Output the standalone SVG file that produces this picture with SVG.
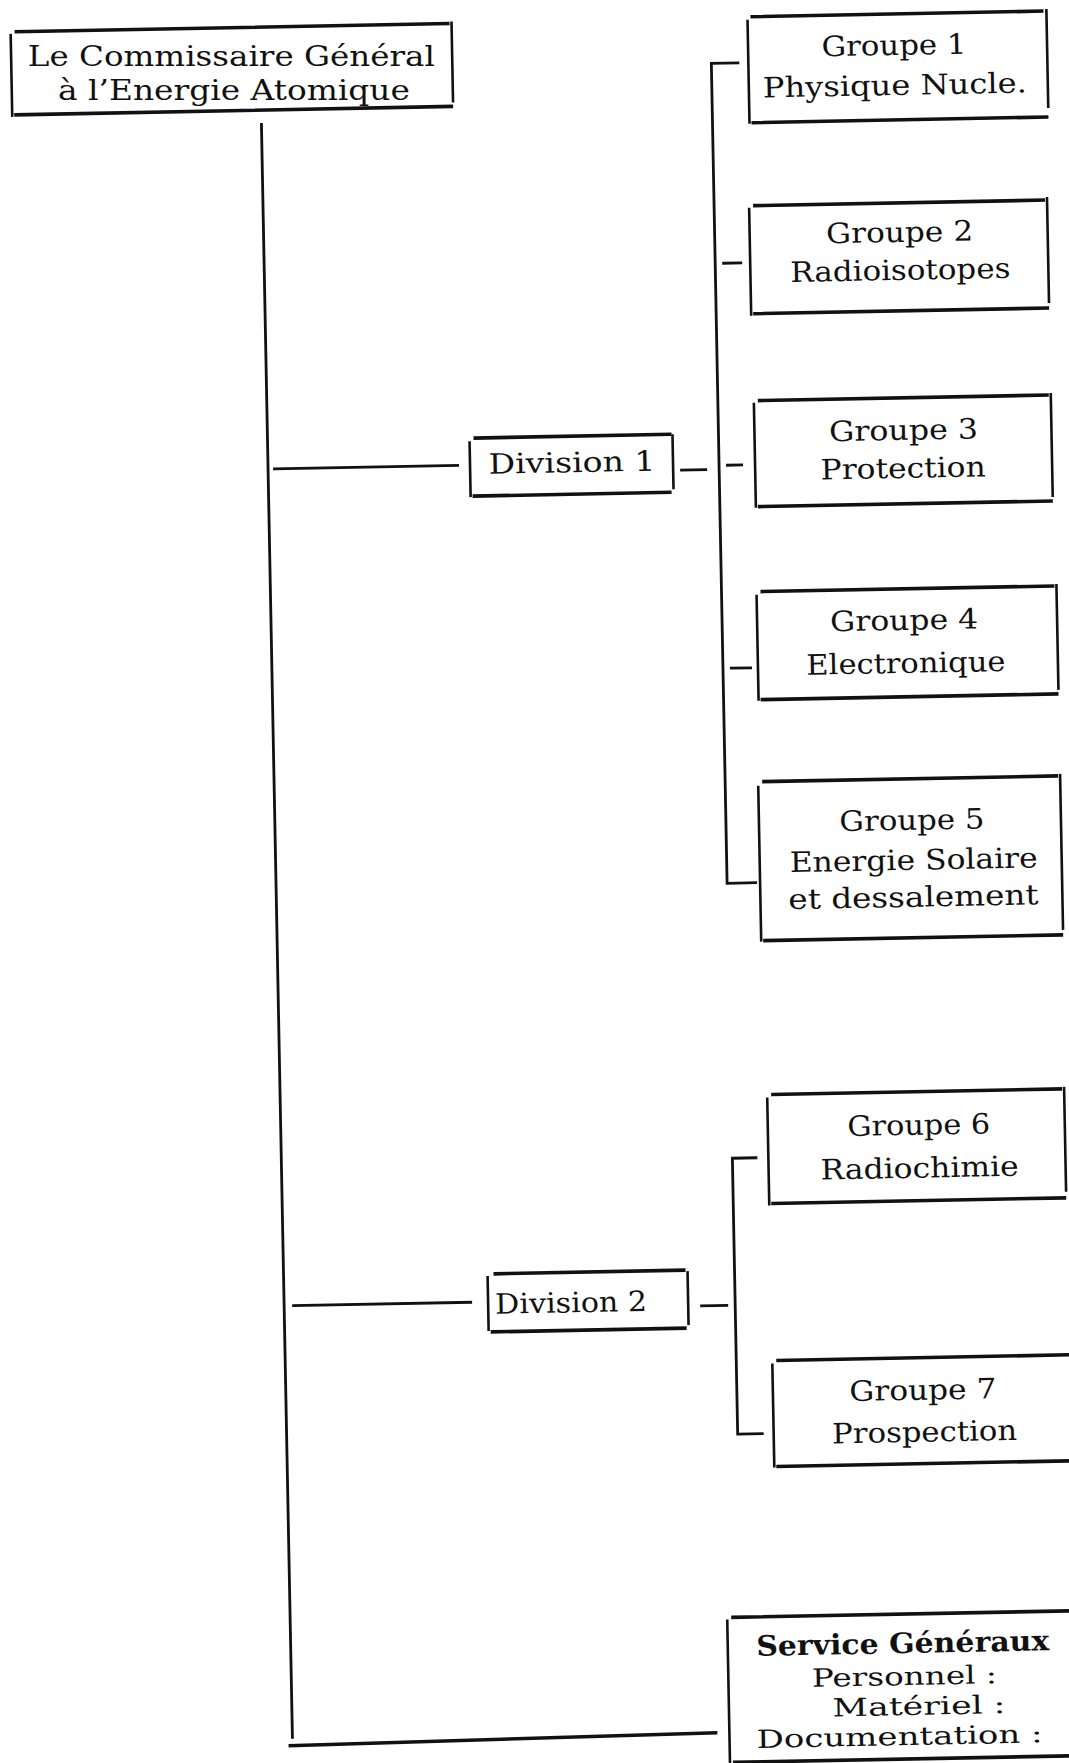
<svg xmlns="http://www.w3.org/2000/svg" width="1069" height="1763" viewBox="0 0 1069 1763">
<style>
.h{stroke:#111;stroke-width:3.6;fill:none}
.v{stroke:#111;stroke-width:2.6;fill:none}
.c{stroke:#111;stroke-width:2.8;fill:none}
text{font-family:"DejaVu Serif","Liberation Serif",serif;fill:#111;text-anchor:middle}
.t{font-size:28px}
.tm{font-size:27px}
.ts{font-size:25px}
.tb{font-size:28px;font-weight:bold}
</style>
<rect width="1069" height="1763" fill="#fff"/>
<g transform="rotate(-1.1 534 880)">
<g id="connectors">
<path class="c" d="M276 118 V1734"/>
<path class="c" d="M272 1741 L701 1736" style="stroke-width:3.5"/>
<path class="c" d="M281 464 H467"/>
<path class="c" d="M688 473 H715"/>
<path class="c" d="M755 67 H727 V887 H757"/>
<path class="c" d="M734 267 H754"/>
<path class="c" d="M734 469 H751"/>
<path class="c" d="M734 672 H756"/>
<path class="c" d="M284 1301 H464"/>
<path class="c" d="M692 1309 H720"/>
<path class="c" d="M752 1162 H727 V1438 H753"/>
</g>
<g id="commissaire">
<path class="h" d="M31 22 H466 M29 105 H468"/>
<path class="v" d="M27 24 V107 M468 20 V101"/>
<text class="tm" x="247" y="60" transform="rotate(1.1 247 60)" textLength="407" lengthAdjust="spacingAndGlyphs">Le Commissaire Général</text>
<text class="tm" x="249" y="94" transform="rotate(1.1 249 94)" textLength="352" lengthAdjust="spacingAndGlyphs">à l’Energie Atomique</text>
</g>
<g id="division1">
<path class="h" d="M482 437 H680 M480 495 H679"/>
<path class="v" d="M478 440 V496 M681 437 V492"/>
<text class="t" x="580" y="473" textLength="167" lengthAdjust="spacingAndGlyphs">Division 1</text>
</g>
<g id="groupe1">
<path class="h" d="M767 21 H1060 M766 127 H1063"/>
<path class="v" d="M764 24 V128 M1063 19 V118"/>
<text class="t" x="910" y="62" textLength="145" lengthAdjust="spacingAndGlyphs">Groupe 1</text>
<text class="t" x="910" y="102" textLength="264" lengthAdjust="spacingAndGlyphs">Physique Nucle.</text>
</g>
<g id="groupe2">
<path class="h" d="M766 210 H1058 M764 318 H1060"/>
<path class="v" d="M762 212 V320 M1060 207 V313"/>
<text class="t" x="912" y="249" textLength="147" lengthAdjust="spacingAndGlyphs">Groupe 2</text>
<text class="t" x="912" y="287" textLength="220" lengthAdjust="spacingAndGlyphs">Radioisotopes</text>
</g>
<g id="groupe3">
<path class="h" d="M767 405 H1058 M765 511 H1060"/>
<path class="v" d="M763 407 V512 M1060 403 V507"/>
<text class="t" x="912" y="447" textLength="149" lengthAdjust="spacingAndGlyphs">Groupe 3</text>
<text class="t" x="911" y="485" textLength="165" lengthAdjust="spacingAndGlyphs">Protection</text>
</g>
<g id="groupe4">
<path class="h" d="M766 596 H1060 M764 704 H1062"/>
<path class="v" d="M762 599 V705 M1062 594 V700"/>
<text class="t" x="909" y="637" textLength="148" lengthAdjust="spacingAndGlyphs">Groupe 4</text>
<text class="t" x="910" y="680" textLength="199" lengthAdjust="spacingAndGlyphs">Electronique</text>
</g>
<g id="groupe5">
<path class="h" d="M764 786 H1060 M762 945 H1062"/>
<path class="v" d="M760 790 V946 M1062 784 V940"/>
<text class="t" x="913" y="837" textLength="145" lengthAdjust="spacingAndGlyphs">Groupe 5</text>
<text class="t" x="914" y="877" textLength="248" lengthAdjust="spacingAndGlyphs">Energie Solaire</text>
<text class="t" x="913" y="914" textLength="250" lengthAdjust="spacingAndGlyphs">et dessalement</text>
</g>
<g id="division2">
<path class="h" d="M486 1273 H678 M482 1331 H678"/>
<path class="v" d="M480 1275 V1330 M680 1274 V1328"/>
<text class="t" x="563" y="1313" textLength="152" lengthAdjust="spacingAndGlyphs">Division 2</text>
</g>
<g id="groupe6">
<path class="h" d="M767 1099 H1058 M765 1208 H1060"/>
<path class="v" d="M763 1102 V1210 M1060 1097 V1202"/>
<text class="t" x="914" y="1142" textLength="143" lengthAdjust="spacingAndGlyphs">Groupe 6</text>
<text class="t" x="914" y="1185" textLength="198" lengthAdjust="spacingAndGlyphs">Radiochimie</text>
</g>
<g id="groupe7">
<path class="h" d="M767 1365 H1090 M765 1471 H1090"/>
<path class="v" d="M763 1368 V1472"/>
<text class="t" x="913" y="1407" textLength="147" lengthAdjust="spacingAndGlyphs">Groupe 7</text>
<text class="t" x="914" y="1449" textLength="185" lengthAdjust="spacingAndGlyphs">Prospection</text>
</g>
<g id="services">
<path class="h" d="M717 1621 H1095 M716 1766 H1095"/>
<path class="v" d="M713 1623 V1780"/>
<text class="tb" x="888" y="1660" textLength="293" lengthAdjust="spacingAndGlyphs">Service Généraux</text>
<text class="ts" x="889" y="1692" textLength="185" lengthAdjust="spacingAndGlyphs">Personnel :</text>
<text class="ts" x="903" y="1722" textLength="173" lengthAdjust="spacingAndGlyphs">Matériel :</text>
<text class="ts" x="883" y="1752" textLength="286" lengthAdjust="spacingAndGlyphs">Documentation :</text>
</g>
</g>
</svg>
